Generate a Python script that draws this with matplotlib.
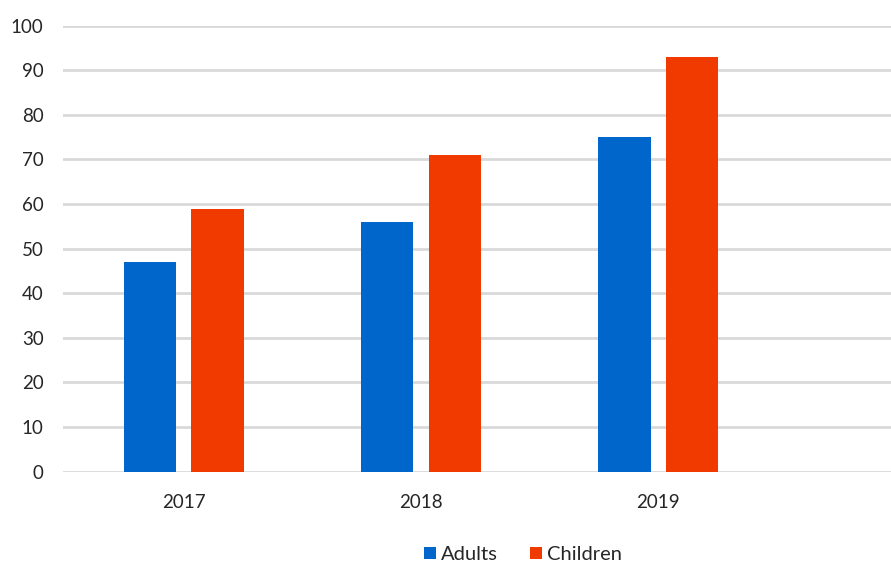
import numpy as np
import matplotlib.pyplot as plt

years = ['2017', '2018', '2019']
adults = [47, 56, 75]
children = [59, 71, 93]

plt.rcParams['font.family'] = ['Lato', 'DejaVu Sans']

fig = plt.figure(figsize=(8.91, 5.63), dpi=100)
ax = fig.add_axes([0.0707, 0.1622, 0.9293, 0.7922])

x = np.arange(len(years))
w = 0.2205
off = 0.1424
ax.bar(x - off, adults, width=w, color='#0066CC', label='Adults', zorder=3)
ax.bar(x + off, children, width=w, color='#F03A00', label='Children', zorder=3)

ax.set_ylim(0, 100)
ax.set_xlim(-0.508, 2.98)
ax.set_yticks(range(0, 101, 10))
ax.set_xticks(x)
ax.set_xticklabels(years)
ax.grid(axis='y', color='#d9d9d9', linewidth=2, zorder=0)
for s in ax.spines.values():
    s.set_visible(False)
ax.tick_params(axis='both', length=0, labelsize=13.5, colors='#262626')
ax.tick_params(axis='y', pad=14)
ax.tick_params(axis='x', pad=16)

fig.legend(loc='center', bbox_to_anchor=(0.587, 0.015), ncol=2, frameon=False,
           fontsize=14.5, handlelength=0.6, handleheight=0.6, handletextpad=0.25,
           columnspacing=1.6, labelcolor='#262626')

fig.savefig('out.png', dpi=100)
